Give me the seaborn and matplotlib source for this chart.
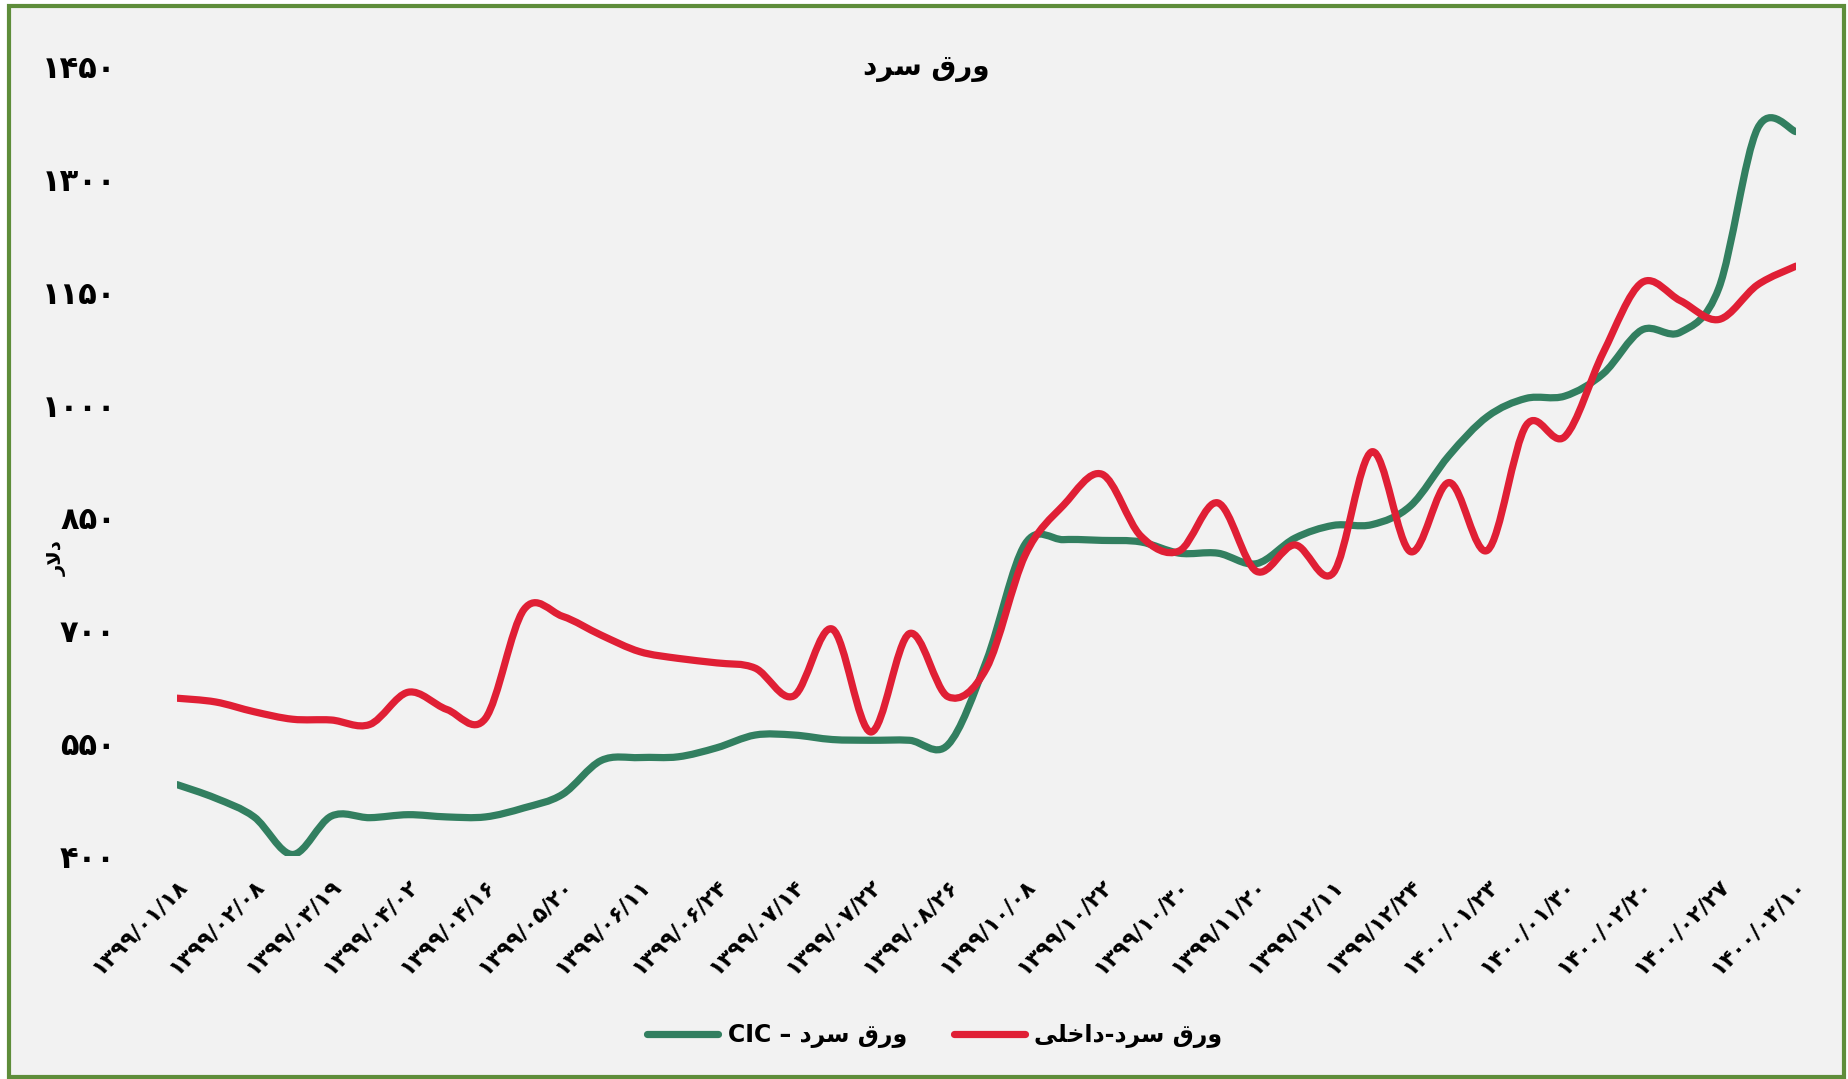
import matplotlib
matplotlib.use('Agg')
import matplotlib.pyplot as plt
from matplotlib.path import Path
from matplotlib.patches import PathPatch, Rectangle
from matplotlib.lines import Line2D
import numpy as np
import pandas as pd
import seaborn as sns

# --- data (USD) ---
tick_dates = ['1399/01/18', '1399/02/08', '1399/03/19', '1399/04/02', '1399/04/16',
              '1399/05/20', '1399/06/11', '1399/06/24', '1399/07/14', '1399/07/22',
              '1399/08/26', '1399/10/08', '1399/10/22', '1399/10/30', '1399/11/20',
              '1399/12/11', '1399/12/24', '1400/01/23', '1400/01/30', '1400/02/20',
              '1400/02/27', '1400/03/10']

# one value every half tick (43 points, labels shown on every other point)
cic_values = [495, 477, 452, 402, 453, 451, 455, 452, 452, 464, 482, 527, 531, 532, 544,
              561, 561, 555, 554, 554, 548, 660, 815, 821, 820, 818, 803, 803, 789, 823,
              840, 841, 866, 933, 985, 1009, 1012, 1042, 1100, 1097, 1156, 1368, 1364]
domestic_values = [610, 605, 592, 582, 581, 575, 618, 595, 583, 728, 719, 694, 672, 663, 657,
                   650, 613, 702, 565, 696, 612, 650, 800, 867, 908, 826, 806, 870, 779, 814,
                   777, 938, 805, 897, 807, 973, 958, 1070, 1163, 1139, 1114, 1160, 1185]

y_ticks = [400, 550, 700, 850, 1000, 1150, 1300, 1450]

title_text = 'ورق سرد'
y_label_text = 'دلار'
cic_label = 'ورق سرد – CIC'
domestic_label = 'ورق سرد-داخلی'

GREEN = '#327F60'
RED = '#E01F35'
BG = '#F2F2F2'

# --- minimal Persian shaping (matplotlib has no bidi / shaping) ---
FORMS = {  # isolated, final, initial, medial
    'ا': ('\uFE8D', '\uFE8E', None, None),
    'د': ('\uFEA9', '\uFEAA', None, None),
    'ر': ('\uFEAD', '\uFEAE', None, None),
    'و': ('\uFEED', '\uFEEE', None, None),
    'ق': ('\uFED5', '\uFED6', '\uFED7', '\uFED8'),
    'س': ('\uFEB1', '\uFEB2', '\uFEB3', '\uFEB4'),
    'خ': ('\uFEA5', '\uFEA6', '\uFEA7', '\uFEA8'),
    'ل': ('\uFEDD', '\uFEDE', '\uFEDF', '\uFEE0'),
    'ی': ('\uFBFC', '\uFBFD', '\uFBFE', '\uFBFF'),
}
LAM_ALEF = ('\uFEFB', '\uFEFC')


def dual(ch):
    return ch in FORMS and FORMS[ch][2] is not None


def shape_word(s):
    out = []
    i = 0
    while i < len(s):
        ch = s[i]
        if ch not in FORMS:
            out.append(ch)
            i += 1
            continue
        prev_joins = i > 0 and dual(s[i - 1])
        if ch == 'ل' and i + 1 < len(s) and s[i + 1] == 'ا':
            out.append(LAM_ALEF[1] if prev_joins else LAM_ALEF[0])
            i += 2
            continue
        next_joins = dual(ch) and i + 1 < len(s) and s[i + 1] in FORMS
        iso, fin, ini, med = FORMS[ch]
        if prev_joins and next_joins:
            out.append(med)
        elif prev_joins:
            out.append(fin)
        elif next_joins:
            out.append(ini)
        else:
            out.append(iso)
        i += 1
    return ''.join(out)


def rtl(s):
    """Shape Persian text and put it in visual (left-to-right) order."""
    shaped = shape_word(s)
    runs, cur, cur_ltr = [], '', None
    for ch in shaped:
        is_ltr = ch.isascii() and ch.isalnum()
        if cur and is_ltr != cur_ltr and not (ch == ' ' and cur_ltr):
            runs.append((cur, cur_ltr))
            cur = ''
        if not cur:
            cur_ltr = is_ltr
        cur += ch
    if cur:
        runs.append((cur, cur_ltr))
    return ''.join(r if ltr else r[::-1] for r, ltr in reversed(runs))


FA_DIGITS = str.maketrans('0123456789', '۰۱۲۳۴۵۶۷۸۹')


def fa(s):
    return str(s).translate(FA_DIGITS)


def smooth_path(x, y):
    """Excel-style smoothed line: cubic Bezier segments through every point."""
    px = np.r_[x[0], x, x[-1]].astype(float)
    py = np.r_[y[0], y, y[-1]].astype(float)
    verts = [(px[1], py[1])]
    codes = [Path.MOVETO]
    for j in range(1, len(px) - 2):
        c1 = (px[j] + (px[j + 1] - px[j - 1]) / 6, py[j] + (py[j + 1] - py[j - 1]) / 6)
        c2 = (px[j + 1] - (px[j + 2] - px[j]) / 6, py[j + 1] - (py[j + 2] - py[j]) / 6)
        verts += [c1, c2, (px[j + 1], py[j + 1])]
        codes += [Path.CURVE4] * 3
    return Path(verts, codes)


sns.set_theme(style='white')
plt.rcParams['font.family'] = ['DejaVu Sans']
plt.rcParams['font.weight'] = 'bold'
plt.rcParams['text.color'] = 'black'
plt.rcParams['xtick.color'] = 'black'
plt.rcParams['ytick.color'] = 'black'

W, H = 1849, 1079
fig = plt.figure(figsize=(W / 100, H / 100), dpi=100, facecolor='white')
fig.patches.append(Rectangle((9 / W, 1 - 1077 / H), (1844 - 9) / W, (1077 - 6) / H,
                             transform=fig.transFigure, facecolor=BG,
                             edgecolor='#5E8D3A', linewidth=3, zorder=-10))

ax = fig.add_axes([177 / W, 1 - 856 / H, (1796 - 177) / W, (856 - 67) / H])
ax.set_facecolor(BG)
ax.patch.set_alpha(0)

df = pd.DataFrame({
    'pos': np.arange(len(cic_values)),
    'cic': cic_values,
    'domestic': domestic_values,
})

for col, color in [('cic', GREEN), ('domestic', RED)]:
    path = smooth_path(df['pos'].values, df[col].values)
    ax.add_patch(PathPatch(path, fill=False, edgecolor=color, linewidth=5.2,
                           capstyle='round', joinstyle='round', zorder=3))

ax.set_xlim(0, len(cic_values) - 1)
ax.set_ylim(400, 1450)
sns.despine(ax=ax, left=True, bottom=True)
ax.grid(False)

ax.set_yticks(y_ticks)
ax.set_yticklabels([fa(v) for v in y_ticks], fontsize=22, fontweight='bold', color='black')
ax.tick_params(axis='y', length=0, pad=44)

tick_pos = np.arange(0, len(cic_values), 2)
ax.set_xticks(tick_pos)
ax.set_xticklabels([fa(d) for d in tick_dates], rotation=45, ha='right', va='top',
                   rotation_mode='anchor', fontsize=16, fontweight='bold', color='black')
ax.tick_params(axis='x', length=0, pad=14)

fig.text(926 / W, 1 - 68 / H, rtl(title_text), ha='center', va='center',
         fontsize=20, fontweight='bold', color='black')
fig.text(57 / W, 1 - 558 / H, rtl(y_label_text), ha='center', va='center',
         rotation=90, fontsize=14, fontweight='bold', color='black')

handles = [Line2D([], [], color=GREEN, lw=5.2, solid_capstyle='round'),
           Line2D([], [], color=RED, lw=5.2, solid_capstyle='round')]
leg = fig.legend(handles, [rtl(cic_label), rtl(domestic_label)], loc='center',
                 bbox_to_anchor=(935 / W, 1 - 1036 / H), ncol=2, frameon=False,
                 handlelength=3.0, columnspacing=2.0, handletextpad=0.4,
                 prop={'size': 17, 'weight': 'bold'})
for t in leg.get_texts():
    t.set_color('black')

fig.savefig('out.png', dpi=100, facecolor='white')
